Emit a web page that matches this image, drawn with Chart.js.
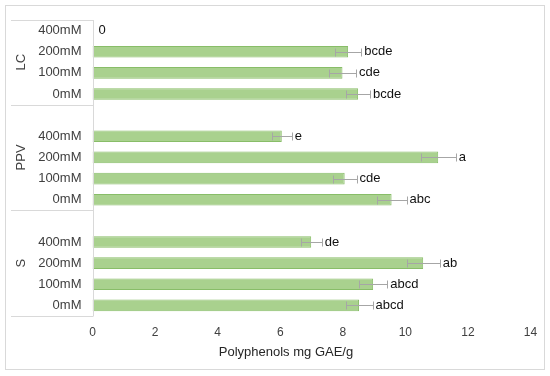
<!DOCTYPE html>
<html>
<head>
<meta charset="utf-8">
<script src="https://cdn.jsdelivr.net/npm/chart.js@4"></script>
<style>
  html, body { margin: 0; padding: 0; background: #fff; }
  #wrap { width: 550px; height: 376px; position: relative; }
</style>
</head>
<body>
<div id="wrap"><canvas id="chart"></canvas></div>
<script>
const grupos = ["LC", "PPV", "S"];
const doses = ["400mM", "200mM", "100mM", "0mM"];

const valoresLC = [0, 8.17, 7.99, 8.49];
const valoresPPV = [6.05, 11.05, 8.06, 9.56];
const valoresS = [6.99, 10.57, 8.97, 8.52];

const erroLC = [0, 0.42, 0.43, 0.38];
const erroPPV = [0.32, 0.56, 0.38, 0.48];
const erroS = [0.34, 0.53, 0.45, 0.43];

const letrasLC = ["0", "bcde", "cde", "bcde"];
const letrasPPV = ["e", "a", "cde", "abc"];
const letrasS = ["de", "ab", "abcd", "abcd"];

const ticksX = [0, 2, 4, 6, 8, 10, 12, 14];
const tituloX = "Polyphenols mg GAE/g";

const COR_BARRA = "#a9d18e";
const COR_BORDA = "#88bd68";
const COR_ERRO = "#a6a6a6";
const COR_LINHA = "#d9d9d9";
const COR_TEXTO = "#404040";

// monta as 14 posições (com um espaço vazio antes de PPV e de S)
const labels = [];
const valores = [];
const erros = [];
const letras = [];
const inicioGrupo = [];
[[valoresLC, erroLC, letrasLC], [valoresPPV, erroPPV, letrasPPV], [valoresS, erroS, letrasS]].forEach((g, i) => {
  inicioGrupo.push(labels.length);
  if (i > 0) {
    labels.push("");
    valores.push(null);
    erros.push(null);
    letras.push("");
  }
  doses.forEach((d, j) => {
    labels.push(d);
    valores.push(g[0][j]);
    erros.push(g[1][j]);
    letras.push(g[2][j]);
  });
});
inicioGrupo.push(labels.length);

const extras = {
  id: "extras",
  beforeDraw(chart) {
    const ctx = chart.ctx;
    ctx.save();
    ctx.strokeStyle = COR_LINHA;
    ctx.lineWidth = 1;
    ctx.strokeRect(5.5, 5.5, 539, 364);
    ctx.restore();
  },
  afterDatasetsDraw(chart) {
    const ctx = chart.ctx;
    const x = chart.scales.x;
    const y = chart.scales.y;
    const area = chart.chartArea;
    const passo = y.getPixelForValue(1) - y.getPixelForValue(0);
    ctx.save();

    // caixa do eixo de categorias
    ctx.strokeStyle = COR_LINHA;
    ctx.lineWidth = 1;
    ctx.beginPath();
    const xe = Math.round(area.left) + 0.5;
    ctx.moveTo(xe, area.top);
    ctx.lineTo(xe, area.bottom);
    inicioGrupo.forEach((ini) => {
      const yy = Math.round(y.getPixelForValue(ini) - passo / 2) + 0.5;
      ctx.moveTo(11, yy);
      ctx.lineTo(xe, yy);
    });
    ctx.stroke();

    // nomes dos grupos
    ctx.fillStyle = COR_TEXTO;
    ctx.font = "13px 'Liberation Sans', Arial, sans-serif";
    ctx.textAlign = "center";
    ctx.textBaseline = "middle";
    grupos.forEach((g, i) => {
      const yc = (y.getPixelForValue(inicioGrupo[i]) + y.getPixelForValue(inicioGrupo[i + 1] - 1)) / 2;
      ctx.save();
      ctx.translate(21, yc);
      ctx.rotate(-Math.PI / 2);
      ctx.fillText(g, 0, 0);
      ctx.restore();
    });

    // barras de erro
    ctx.strokeStyle = COR_ERRO;
    ctx.beginPath();
    valores.forEach((v, i) => {
      if (v == null || !erros[i]) return;
      const yc = Math.round(y.getPixelForValue(i)) + 0.5;
      const x1 = Math.round(x.getPixelForValue(v - erros[i])) + 0.5;
      const x2 = Math.round(x.getPixelForValue(v + erros[i])) + 0.5;
      ctx.moveTo(x1, yc);
      ctx.lineTo(x2, yc);
      ctx.moveTo(x1, yc - 4);
      ctx.lineTo(x1, yc + 4);
      ctx.moveTo(x2, yc - 4);
      ctx.lineTo(x2, yc + 4);
    });
    ctx.stroke();

    // letras
    ctx.fillStyle = "#111";
    ctx.textAlign = "left";
    valores.forEach((v, i) => {
      if (v == null || !letras[i]) return;
      const yc = y.getPixelForValue(i);
      const xp = x.getPixelForValue(v + erros[i]) + (erros[i] ? 3 : 6);
      ctx.fillText(letras[i], xp, yc);
    });

    // titulo do eixo x
    ctx.fillStyle = "#262626";
    ctx.textAlign = "center";
    ctx.fillText(tituloX, 286, 352);
    ctx.restore();
  },
};

new Chart(document.getElementById("chart"), {
  type: "bar",
  data: {
    labels: labels,
    datasets: [{
      data: valores,
      backgroundColor: COR_BARRA,
      borderColor: COR_BORDA,
      borderWidth: 1,
      categoryPercentage: 1,
      barPercentage: 0.55,
    }],
  },
  options: {
    indexAxis: "y",
    responsive: true,
    maintainAspectRatio: false,
    animation: false,
    layout: { padding: { top: 20, right: 19.5, left: 0, bottom: 0 } },
    plugins: { legend: { display: false }, tooltip: { enabled: false } },
    scales: {
      x: {
        min: 0,
        max: 14,
        afterFit: (s) => { s.height = 60; },
        afterBuildTicks: (s) => { s.ticks = ticksX.map((v) => ({ value: v })); },
        grid: { display: false, drawTicks: false },
        border: { display: false },
        ticks: { color: COR_TEXTO, font: { size: 12, family: "'Liberation Sans', Arial, sans-serif" }, padding: 9 },
      },
      y: {
        afterFit: (s) => { s.width = 92.5; },
        grid: { display: false, drawTicks: false },
        border: { display: false },
        ticks: { autoSkip: false, color: COR_TEXTO, font: { size: 13, family: "'Liberation Sans', Arial, sans-serif" }, padding: 11 },
      },
    },
  },
  plugins: [extras],
});
</script>
</body>
</html>
